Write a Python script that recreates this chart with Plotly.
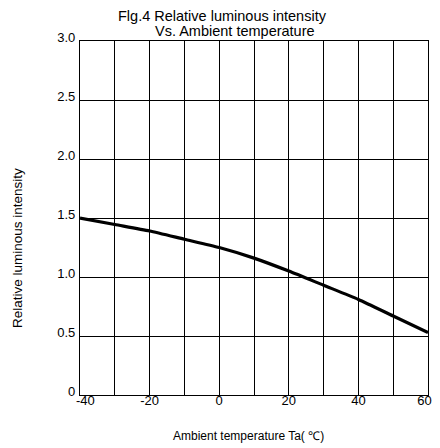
import plotly.graph_objects as go

temps = [-40, -30, -20, -10, 0, 10, 20, 30, 40, 50, 60]
rel_intensity = [1.50, 1.445, 1.39, 1.32, 1.25, 1.16, 1.05, 0.93, 0.81, 0.67, 0.53]

NB = "\u00a0"
x_tickvals = [-40, -30, -20, -10, 0, 10, 20, 30, 40, 50, 60]
x_ticktext = [NB * 3 + "-40", "", "-20", "", "0", "", "20", "", "40", "", "60" + NB * 2]
y_tickvals = [0, 0.5, 1.0, 1.5, 2.0, 2.5, 3.0]
y_ticktext = ["0", "0.5", "1.0", "1.5", "2.0", "2.5", "3.0"]

FONT = "Liberation Sans, Arial, sans-serif"
W, H = 440, 448
ML, MR, MT, MB = 80, 12, 41, 53
PW, PH = W - ML - MR, H - MT - MB


def px_x(p):
    return (p - ML) / PW


def px_y(p):
    return (H - MB - p) / PH


fig = go.Figure()
fig.add_trace(go.Scatter(
    x=temps, y=rel_intensity, mode="lines",
    line=dict(color="black", width=3.2, shape="spline", smoothing=0.6),
    hoverinfo="skip", showlegend=False,
))


def ann(text, x, y, size, angle=0):
    return dict(text=text, x=px_x(x), y=px_y(y), xref="paper", yref="paper",
                xanchor="center", yanchor="middle", textangle=angle,
                showarrow=False, font=dict(size=size, family=FONT))


fig.update_layout(
    width=W, height=H,
    margin=dict(l=ML, r=MR, t=MT, b=MB, pad=0, autoexpand=False),
    paper_bgcolor="white", plot_bgcolor="white",
    font=dict(family=FONT, color="black", size=13),
    showlegend=False,
    xaxis=dict(
        range=[-40, 60], tickvals=x_tickvals, ticktext=x_ticktext,
        showgrid=True, gridcolor="black", gridwidth=1,
        showline=True, linecolor="black", linewidth=1.2, mirror=True,
        ticks="", zeroline=False, ticklabelstandoff=-7, automargin=False,
        ticklabeloverflow="allow",
        tickfont=dict(size=13, family=FONT),
    ),
    yaxis=dict(
        range=[0, 3], tickvals=y_tickvals, ticktext=y_ticktext,
        showgrid=True, gridcolor="black", gridwidth=1,
        showline=True, linecolor="black", linewidth=1.2, mirror=True,
        ticks="", zeroline=False, ticklabelstandoff=1, ticklabelshift=-4,
        automargin=False, ticklabeloverflow="allow",
        tickfont=dict(size=13, family=FONT),
    ),
    annotations=[
        ann("Flg.4 Relative luminous intensity", 222, 16, 14.5),
        ann("Vs. Ambient temperature", 235, 31, 14.5),
        ann("Relative luminous intensity", 17, 248, 13.5, -90),
        ann("Ambient temperature Ta( ℃)", 248, 436, 12),
    ],
)

fig.write_html(
    "out.html",
    config={"displayModeBar": False},
    post_script="document.body.style.margin='0px';document.body.style.overflow='hidden';",
)
